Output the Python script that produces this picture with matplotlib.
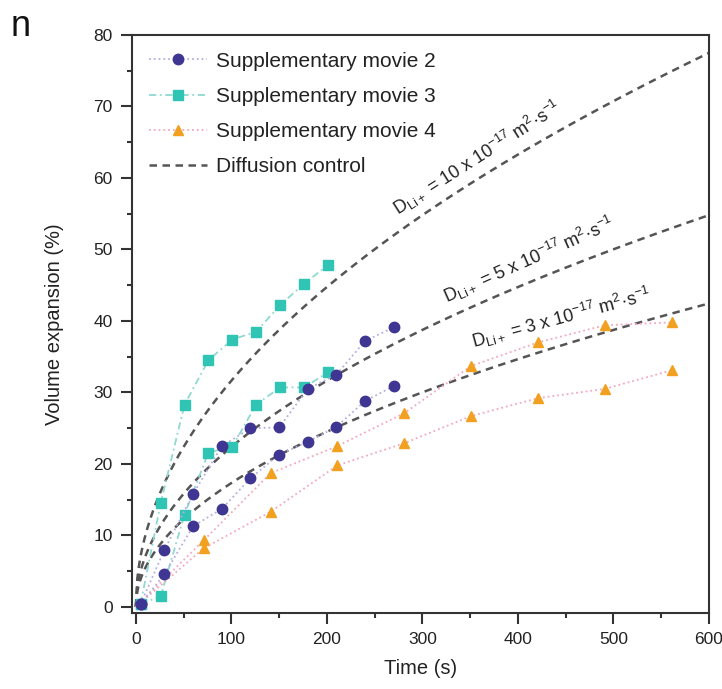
import numpy as np
import matplotlib
matplotlib.use("Agg")
import matplotlib.pyplot as plt
from matplotlib.ticker import MultipleLocator

# ---- data ----
t_m2 = [5, 30, 60, 90, 120, 150, 180, 210, 240, 270]
m2_a = [0.4, 8.0, 15.8, 22.5, 25.0, 25.1, 30.5, 32.5, 37.2, 39.1]
m2_b = [0.4, 4.6, 11.3, 13.7, 18.0, 21.3, 23.1, 25.2, 28.8, 30.9]

t_m3 = [5, 26, 51, 76, 101, 126, 151, 176, 201]
m3_a = [0.4, 14.5, 28.3, 34.5, 37.4, 38.5, 42.2, 45.2, 47.8]
m3_b = [0.4, 1.5, 12.9, 21.6, 22.4, 28.3, 30.7, 30.7, 32.8]

t_m4 = [0, 71, 141, 211, 281, 351, 421, 491, 561]
m4_a = [0.0, 9.3, 18.7, 22.5, 27.1, 33.7, 37.0, 39.4, 39.8]
m4_b = [0.0, 8.2, 13.3, 19.8, 22.9, 26.7, 29.2, 30.5, 33.1]

# diffusion-control curves: V proportional to sqrt(D*t), D in 1e-17 m^2/s
D_vals = [10, 5, 3]
V_at_600_for_D10 = 77.5
D_labels = [r"D$_{\mathregular{Li+}}$ = 10 x 10$^{\mathregular{-17}}$ m$^{\mathregular{2}}$·s$^{\mathregular{-1}}$",
            r"D$_{\mathregular{Li+}}$ = 5 x 10$^{\mathregular{-17}}$ m$^{\mathregular{2}}$·s$^{\mathregular{-1}}$",
            r"D$_{\mathregular{Li+}}$ = 3 x 10$^{\mathregular{-17}}$ m$^{\mathregular{2}}$·s$^{\mathregular{-1}}$"]
label_pos = [(357, 62.8), (411, 48.5), (446, 40.5)]
label_rot = [32.5, 24, 15]

legend_labels = ["Supplementary movie 2", "Supplementary movie 3",
                 "Supplementary movie 4", "Diffusion control"]

# ---- styling ----
plt.rcParams['font.family'] = ['Liberation Sans', 'DejaVu Sans']
plt.rcParams['mathtext.fontset'] = 'custom'
plt.rcParams['mathtext.rm'] = 'Liberation Sans'
plt.rcParams['mathtext.it'] = 'Liberation Sans'
c_purple = "#3f3592"
c_teal = "#2fc4b4"
c_orange = "#f2a020"
c_pl = "#b6aee0"
c_tl = "#8fd9d1"
c_ol = "#f3a9bd"
c_diff = "#555555"
c_txt = "#222222"

fig = plt.figure(figsize=(7.22, 6.89), dpi=100)
ax = fig.add_axes([0.1828, 0.1103, 0.7992, 0.8389])

t_curve = np.linspace(0, 600, 400)
k10 = V_at_600_for_D10 / np.sqrt(10 * 600)
for i, D in enumerate(D_vals):
    ax.plot(t_curve, k10 * np.sqrt(D * t_curve), ls=(0, (3, 2.2)), color=c_diff, lw=1.8,
            zorder=2, label=legend_labels[3] if i == 0 else None)

ax.plot(t_m2, m2_a, ls=':', color=c_pl, lw=1.3, marker='o', ms=7.5, mfc=c_purple,
        mec=c_purple, zorder=4, label=legend_labels[0])
ax.plot(t_m2, m2_b, ls=':', color=c_pl, lw=1.3, marker='o', ms=7.5, mfc=c_purple,
        mec=c_purple, zorder=4)
ax.plot(t_m3, m3_a, ls=(0, (4, 2, 1, 2)), color=c_tl, lw=1.3, marker='s', ms=6.5, mfc=c_teal,
        mec=c_teal, zorder=3, label=legend_labels[1])
ax.plot(t_m3, m3_b, ls=(0, (4, 2, 1, 2)), color=c_tl, lw=1.3, marker='s', ms=6.5, mfc=c_teal,
        mec=c_teal, zorder=3)
ax.plot(t_m4, m4_a, ls=':', color=c_ol, lw=1.3, marker='^', ms=7.5, mfc=c_orange,
        mec=c_orange, zorder=3, markevery=list(range(1, len(t_m4))), label=legend_labels[2])
ax.plot(t_m4, m4_b, ls=':', color=c_ol, lw=1.3, marker='^', ms=7.5, mfc=c_orange,
        mec=c_orange, zorder=3, markevery=list(range(1, len(t_m4))))

for lab, (x, y), r in zip(D_labels, label_pos, label_rot):
    ax.text(x, y, lab, rotation=r, ha='center', va='center', fontsize=13,
            color=c_txt, rotation_mode='anchor')

ax.set_xlim(-4, 600)
ax.set_ylim(-0.85, 80)
ax.xaxis.set_major_locator(MultipleLocator(100))
ax.xaxis.set_minor_locator(MultipleLocator(50))
ax.yaxis.set_major_locator(MultipleLocator(10))
ax.yaxis.set_minor_locator(MultipleLocator(5))
ax.tick_params(which='both', direction='out', labelsize=12.5, width=1.5,
               colors='#333333', labelcolor=c_txt, pad=6)
ax.tick_params(which='major', length=8)
ax.tick_params(which='minor', length=3.6)
for s in ax.spines.values():
    s.set_linewidth(1.5)
    s.set_color('#333333')

ax.set_xlabel("Time (s)", fontsize=14.5, labelpad=8, color=c_txt)
ax.set_ylabel("Volume expansion (%)", fontsize=14.5, labelpad=21, color=c_txt)

h, l = ax.get_legend_handles_labels()
order = [l.index(x) for x in legend_labels]
leg = ax.legend([h[i] for i in order], [l[i] for i in order], loc='upper left',
                frameon=False, fontsize=15, handlelength=2.8, handletextpad=0.45,
                borderaxespad=0.1, labelspacing=0.78, borderpad=0.7,
                bbox_to_anchor=(0.0, 1.0))
for t in leg.get_texts():
    t.set_color(c_txt)

fig.text(0.015, 0.948, "n", fontsize=26, color='#111111')

fig.savefig("out.png", dpi=100)
